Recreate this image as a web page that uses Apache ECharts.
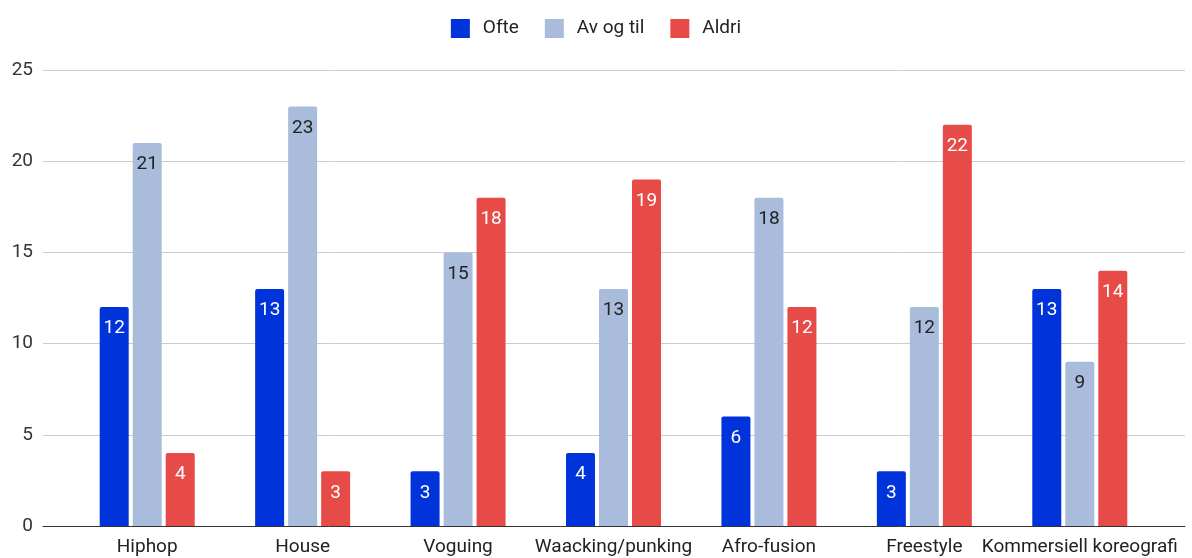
<!DOCTYPE html>
<html>
<head>
<meta charset="utf-8">
<script src="https://cdn.jsdelivr.net/npm/echarts@6/dist/echarts.min.js"></script>
<style>
  html, body { margin: 0; padding: 0; background: #fff; }
  #chart { width: 1192px; height: 558px; }
</style>
</head>
<body>
<div id="chart"></div>
<script>
  var categories = ['Hiphop', 'House', 'Voguing', 'Waacking/punking', 'Afro-fusion', 'Freestyle', 'Kommersiell koreografi'];
  var ofte = [12, 13, 3, 4, 6, 3, 13];
  var avOgTil = [21, 23, 15, 13, 18, 12, 9];
  var aldri = [4, 3, 18, 19, 12, 22, 14];
  var yTicks = [0, 5, 10, 15, 20, 25];

  var font = 'Roboto';

  function barSeries(name, data, color, labelColor) {
    return {
      name: name,
      type: 'bar',
      xAxisIndex: 1,
      yAxisIndex: 1,
      data: data,
      barWidth: 29,
      barGap: '13.8%',
      itemStyle: { color: color, borderRadius: [2, 2, 0, 0] },
      label: {
        show: true,
        position: 'insideTop',
        distance: 12,
        color: labelColor,
        fontFamily: font,
        fontSize: 19
      }
    };
  }

  var chart = echarts.init(document.getElementById('chart'));
  chart.setOption({
    animation: false,
    backgroundColor: '#fff',
    legend: {
      top: 14,
      left: 'center',
      itemWidth: 19,
      itemHeight: 19,
      itemGap: 26,
      icon: 'rect',
      textStyle: { fontFamily: font, fontSize: 19, color: '#222', padding: [0, 0, 0, 8] },
      data: ['Ofte', 'Av og til', 'Aldri']
    },
    grid: [
      { left: 43, right: 7, top: 70, bottom: 32 },
      { left: 69.5, right: 34.5, top: 70, bottom: 32 }
    ],
    xAxis: [
      {
        gridIndex: 0,
        type: 'value',
        min: 0,
        max: 1,
        axisLine: { show: true, lineStyle: { color: '#333', width: 1 } },
        axisTick: { show: false },
        axisLabel: { show: false },
        splitLine: { show: false }
      },
      {
        gridIndex: 1,
        type: 'category',
        data: categories,
        axisLine: { show: false },
        axisTick: { show: false },
        axisLabel: { margin: 12, interval: 0, color: '#222', fontFamily: font, fontSize: 19 }
      }
    ],
    yAxis: [
      {
        gridIndex: 0,
        type: 'value',
        min: yTicks[0],
        max: yTicks[yTicks.length - 1],
        interval: 5,
        axisLine: { show: false },
        axisTick: { show: false },
        axisLabel: { margin: 10, color: '#333', fontFamily: font, fontSize: 19 },
        splitLine: { lineStyle: { color: '#ccc', width: 1 } }
      },
      {
        gridIndex: 1,
        type: 'value',
        min: yTicks[0],
        max: yTicks[yTicks.length - 1],
        interval: 5,
        show: false
      }
    ],
    series: [
      barSeries('Ofte', ofte, '#0033d9', '#fff'),
      barSeries('Av og til', avOgTil, '#a9bcdb', '#222'),
      barSeries('Aldri', aldri, '#e64b47', '#fff')
    ]
  });
</script>
</body>
</html>
